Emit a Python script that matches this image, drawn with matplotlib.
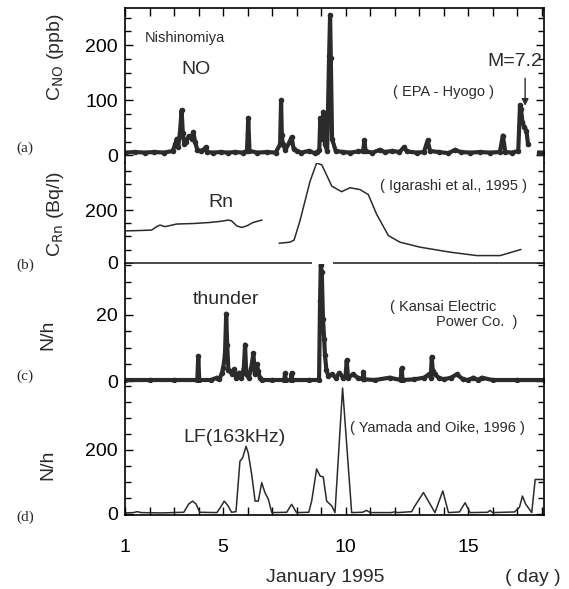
import numpy as np
import matplotlib.pyplot as plt
from matplotlib.ticker import MultipleLocator, FixedLocator

plt.rcParams['font.family'] = ['Liberation Sans', 'DejaVu Sans']

# (a) NO concentration at Nishinomiya (ppb)
no_days = [1.0, 1.4, 1.8, 2.2, 2.6, 2.95, 3.05, 3.11, 3.17, 3.24, 3.31, 3.36, 3.42, 3.5,
           3.6, 3.72, 3.79, 3.86, 3.95, 4.1, 4.25, 4.3, 4.36, 4.6, 4.9, 5.2, 5.5, 5.8,
           5.98, 6.03, 6.08, 6.4, 6.8, 7.15, 7.33, 7.37, 7.4, 7.44, 7.55, 7.72, 7.8,
           7.88, 8.0, 8.2, 8.5, 8.75, 8.85, 8.93, 8.97, 9.03, 9.1, 9.16, 9.25, 9.33,
           9.37, 9.4, 9.45, 9.6, 9.9, 10.2, 10.5, 10.72, 10.77, 10.82, 11.1, 11.4,
           11.6, 11.9, 12.2, 12.39, 12.5, 12.9, 13.2, 13.35, 13.45, 13.8, 14.2, 14.47,
           14.7, 15.1, 15.5, 15.9, 16.3, 16.42, 16.52, 16.8, 17.05, 17.12, 17.16,
           17.22, 17.3, 17.38, 17.45, 17.5, 17.9, 18.05]
no_ppb = [5, 6, 5, 6, 5, 8, 20, 30, 15, 40, 82, 40, 20, 25,
          35, 30, 42, 25, 10, 8, 12, 15, 6, 5, 6, 5, 6, 5,
          8, 68, 8, 5, 6, 5, 20, 100, 37, 20, 10, 25, 33,
          12, 8, 5, 8, 4, 6, 10, 67, 30, 79, 20, 8, 180,
          255, 176, 30, 8, 6, 5, 7, 8, 27, 7, 5, 10,
          6, 8, 6, 15, 7, 5, 6, 27, 8, 6, 4, 10,
          6, 5, 6, 5, 6, 36, 6, 5, 8, 91, 85,
          60, 51, 45, 20, np.nan, 5, 5]

# (b) Rn concentration (Bq/l), two records
rn1_days = [1.0, 1.5, 2.09, 2.29, 2.43, 2.63, 3.11, 3.79, 4.47, 4.88, 5.22, 5.35,
            5.56, 5.76, 5.97, 6.23, 6.58]
rn1_val = [121, 122, 124, 137, 143, 137, 147, 149, 153, 157, 162, 159,
           140, 134, 140, 153, 162]
rn2_days = [7.30, 7.73, 7.9, 8.14, 8.55, 8.82, 9.03, 9.16, 9.44, 9.84, 10.18, 10.59,
            10.93, 11.27, 11.75, 12.22, 13.04, 14.27, 15.36, 16.31, 16.6, 17.15]
rn2_val = [74, 78, 86, 159, 309, 379, 372, 347, 291, 270, 285, 278,
           259, 184, 103, 78, 59, 40, 27, 27, 35, 50]
rn_zero_gap = (8.65, 9.47)

# (c) thunder counts (N/h)
th_days = [1.0, 2.0, 3.0, 3.95, 3.99, 4.03, 4.5, 4.75, 4.85, 4.95, 5.01, 5.08,
           5.13, 5.17, 5.22, 5.3, 5.38, 5.45, 5.55, 5.65, 5.75, 5.85, 5.9, 5.95,
           6.05, 6.15, 6.24, 6.3, 6.38, 6.44, 6.5, 6.6, 7.0, 7.5, 7.53, 7.56,
           7.77, 7.8, 7.83, 8.5, 8.92, 8.96, 8.99, 9.03, 9.08, 9.13, 9.16, 9.22,
           9.3, 9.45, 9.6, 9.75, 9.9, 10.0, 10.05, 10.1, 10.3, 10.5, 10.7, 10.73,
           10.76, 11.2, 11.8, 12.25, 12.29, 12.33, 12.8, 13.2, 13.4, 13.48, 13.52,
           13.56, 13.65, 13.8, 14.0, 14.3, 14.54, 14.8, 15.0, 15.22, 15.4, 15.56,
           16.0, 17.0, 18.1]
th_val = [0.3, 0.3, 0.3, 0.3, 7.5, 0.3, 0.3, 1.0, 0.5, 2.3, 4.0, 8.0,
          20.3, 10.8, 3.3, 3.0, 2.0, 3.5, 1.0, 2.5, 1.0, 4.0, 11.0, 2.0,
          1.0, 4.0, 8.3, 2.0, 5.1, 3.0, 1.0, 0.3, 0.3, 0.3, 2.3, 0.3,
          0.3, 2.3, 0.3, 0.3, 0.3, 24.0, 35.0, 33.0, 18.6, 12.6, 7.8, 3.3,
          1.5, 2.0, 1.0, 2.5, 1.0, 1.5, 6.3, 1.0, 2.0, 1.0, 0.5, 2.8,
          0.5, 0.3, 1.0, 0.3, 3.8, 0.3, 0.5, 1.0, 2.0, 1.0, 7.3,
          3.0, 2.0, 1.0, 0.5, 1.0, 2.0, 0.5, 0.3, 1.0, 0.3, 1.0,
          0.3, 0.3, 0.3]

# (d) LF (163 kHz) pulse counts (N/h)
lf_days = [1.0, 1.35, 1.5, 1.65, 2.5, 3.4, 3.6, 3.76, 3.9, 4.05, 4.75, 4.9, 5.05,
           5.2, 5.35, 5.53, 5.69, 5.8, 5.94, 6.03, 6.17, 6.31, 6.44, 6.58, 6.71,
           6.85, 6.99, 7.6, 7.8, 8.0, 8.5, 8.62, 8.82, 8.96, 9.09, 9.23, 9.44,
           9.57, 9.88, 10.25, 10.7, 10.86, 11.0, 11.85, 12.0, 12.15, 12.7, 12.84,
           13.18, 13.38, 13.65, 13.97, 14.2, 14.65, 14.88, 15.08, 15.8, 15.9, 16.0,
           16.9, 17.1, 17.22, 17.35, 17.6, 17.74, 17.97, 18.1]
lf_val = [2, 3, 6, 3, 2, 4, 30, 39, 30, 4, 3, 20, 39,
          25, 4, 6, 164, 175, 211, 190, 123, 39, 39, 97, 66,
          45, 3, 4, 29, 3, 4, 40, 140, 118, 115, 39, 24,
          3, 394, 3, 4, 10, 3, 3, 5, 3, 6, 25,
          66, 39, 3, 71, 3, 5, 34, 3, 4, 10, 3,
          5, 20, 55, 30, 3, 107, 107, 107]

W, H = 569, 589
left_px, right_px = 125, 544
edges_px = [8.3, 162.5, 264, 383, 514.5]

fig = plt.figure(figsize=(W / 100, H / 100), dpi=100)
axes = []
for i in range(4):
    top, bot = edges_px[i], edges_px[i + 1]
    ax = fig.add_axes([left_px / W, 1 - bot / H, (right_px - left_px) / W, (bot - top) / H])
    ax.set_xlim(1, 18.1)
    ax.xaxis.set_major_locator(FixedLocator([1, 5, 10, 15]))
    ax.xaxis.set_minor_locator(MultipleLocator(1))
    ax.tick_params(which='both', direction='in', left=True, right=True,
                   top=False, bottom=False, labelbottom=False, labelsize=14,
                   width=1.0, pad=5)
    ax.tick_params(which='major', length=6)
    ax.tick_params(which='minor', length=4)
    for s in ax.spines.values():
        s.set_linewidth(1.2)
    axes.append(ax)
ax_a, ax_b, ax_c, ax_d = axes

ink = '#2b2b2b'

# panel a
ax_a.plot(no_days, no_ppb, color=ink, lw=3, marker='o', ms=3)
ax_a.set_ylim(-13, 267)
ax_a.yaxis.set_major_locator(FixedLocator([0, 100, 200]))
ax_a.yaxis.set_minor_locator(MultipleLocator(25))
ax_a.spines['bottom'].set_visible(False)
ax_a.tick_params(axis='x', which='both', top=True, length=6)
ax_a.text(3.45, 213, 'Nishinomiya', fontsize=10.5, ha='center', va='center', color=ink)
ax_a.text(3.9, 156, 'NO', fontsize=14, ha='center', va='center', color=ink)
ax_a.text(16.9, 171, 'M=7.2', fontsize=14, ha='center', va='center', color=ink)
ax_a.text(13.98, 115, '( EPA - Hyogo )', fontsize=10.5, ha='center', va='center', color=ink)
ax_a.annotate('', xy=(17.33, 85), xytext=(17.33, 145),
              arrowprops=dict(arrowstyle='-|>', color=ink, lw=1, mutation_scale=10))

# panel b
ax_b.plot(rn1_days, rn1_val, color=ink, lw=1.1)
ax_b.plot(rn2_days, rn2_val, color=ink, lw=1.1)
ax_b.hlines(0, 1, rn_zero_gap[0], color=ink, lw=1.2)
ax_b.hlines(0, rn_zero_gap[1], 18.1, color=ink, lw=1.2)
ax_b.set_ylim(-5, 381)
ax_b.yaxis.set_major_locator(FixedLocator([0, 200]))
ax_b.yaxis.set_minor_locator(MultipleLocator(50))
ax_b.spines['top'].set_visible(False)
ax_b.spines['bottom'].set_visible(False)
ax_b.text(4.92, 229, 'Rn', fontsize=14, ha='center', va='center', color=ink)
ax_b.text(14.4, 290, '( Igarashi et al., 1995 )', fontsize=10.5, ha='center', va='center', color=ink)

# panel c
ax_c.plot(th_days, th_val, color=ink, lw=3, marker='o', ms=3)
ax_c.set_ylim(-0.6, 35.3)
ax_c.yaxis.set_major_locator(FixedLocator([0, 20]))
ax_c.yaxis.set_minor_locator(MultipleLocator(5))
ax_c.spines['top'].set_visible(False)
ax_c.spines['bottom'].set_visible(False)
ax_c.text(5.12, 24.5, 'thunder', fontsize=14, ha='center', va='center', color=ink)
ax_c.text(11.82, 22.2, '( Kansai Electric', fontsize=10.5, ha='left', va='center', color=ink)
ax_c.text(17.0, 17.8, 'Power Co.  )', fontsize=10.5, ha='right', va='center', color=ink)

# panel d
ax_d.plot(lf_days, lf_val, color=ink, lw=1.1)
ax_d.set_ylim(-3, 410)
ax_d.yaxis.set_major_locator(FixedLocator([0, 200]))
ax_d.yaxis.set_minor_locator(MultipleLocator(50))
ax_d.spines['top'].set_visible(False)
ax_d.tick_params(axis='x', which='both', bottom=True, labelbottom=True, length=6, pad=18)
ax_d.text(5.45, 238, 'LF(163kHz)', fontsize=14, ha='center', va='center', color=ink)
ax_d.text(10.18, 270, '( Yamada and Oike, 1996 )', fontsize=10.5, ha='left', va='center', color=ink)

# axis titles and panel letters
ylabels = [('C$_{\\mathrm{NO}}$ (ppb)', 55, 57), ('C$_{\\mathrm{Rn}}$ (Bq/l)', 55, 214),
           ('N/h', 48, 335), ('N/h', 48, 465)]
for txt, xp, yp in ylabels:
    fig.text(xp / W, 1 - yp / H, txt, rotation=90, fontsize=14, ha='center', va='center', color=ink)

letters = [('(a)', 148), ('(b)', 265), ('(c)', 376), ('(d)', 517)]
for txt, yp in letters:
    fig.text(25 / W, 1 - yp / H, txt, fontsize=11, family='Liberation Serif',
             ha='center', va='center', color=ink)

fig.text(325 / W, 1 - 577 / H, 'January 1995', fontsize=14, ha='center', va='center', color=ink)
fig.text(533 / W, 1 - 577 / H, '( day )', fontsize=14, ha='center', va='center', color=ink)

fig.savefig('out.png', dpi=100)
